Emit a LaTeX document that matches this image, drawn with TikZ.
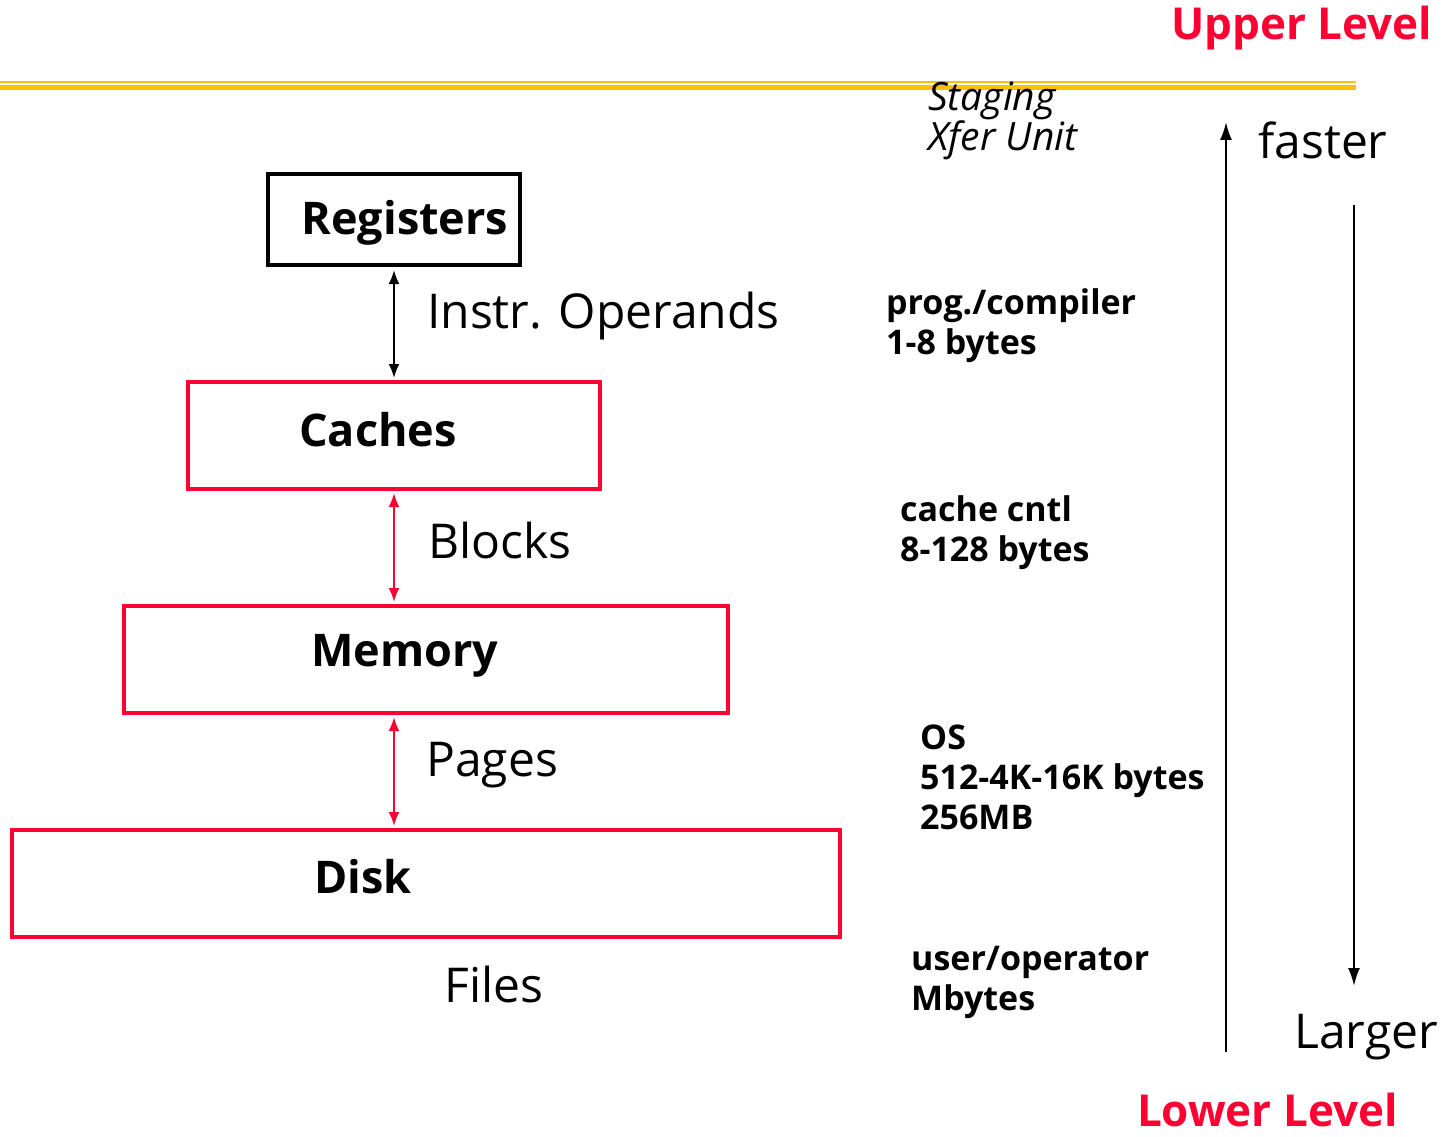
\documentclass[tikz,border=0pt]{standalone}
\usepackage{fontspec}
\setmainfont{Open Sans}
\usetikzlibrary{arrows.meta}
\definecolor{hired}{RGB}{255,0,51}
\definecolor{bargold}{RGB}{255,192,0}
\tikzset{
  lvl/.style={draw=hired, line width=3.5pt, inner sep=0pt},
  regbox/.style={draw=black, line width=4pt, inner sep=0pt},
  boxtext/.style={font=\fontsize{45}{48}\selectfont\bfseries, inner sep=0pt},
  unittext/.style={font=\fontsize{48}{52}\selectfont, inner sep=0pt, anchor=west},
  sidetext/.style={font=\fontsize{34}{40}\selectfont\bfseries, inner sep=0pt, anchor=west, align=left},
  leveltext/.style={font=\fontsize{44}{48}\selectfont\bfseries, text=hired, inner sep=0pt},
  dirtext/.style={font=\fontsize{48}{52}\selectfont, inner sep=0pt},
  link/.style={line width=2.2pt, {Latex[length=14pt,width=11pt]}-{Latex[length=14pt,width=11pt]}},
  redlink/.style={link, draw=hired, color=hired},
  trend/.style={line width=2.2pt, -{Latex[length=18pt,width=12pt]}}
}
\begin{document}
\begin{tikzpicture}[x=1pt,y=-1pt]
\useasboundingbox (0,0) rectangle (1454,1137);
% header bar
\draw[bargold, line width=2pt] (0,82) -- (1356,82);
\draw[bargold, line width=5pt] (0,88) -- (1356,88);
\node[leveltext, anchor=east] (upper) at (1432,28) {Upper Level};
\node[font=\fontsize{39}{39}\selectfont\itshape, inner sep=0pt, anchor=west, align=left] (staging) at (928,121) {Staging\\Xfer Unit};

% hierarchy boxes
\node[regbox, minimum width=252pt, minimum height=91pt] (reg) at (394,219.5) {};
\node[boxtext] (regt) at (405,223) {Registers};
\node[lvl, minimum width=412pt, minimum height=107pt] (cache) at (394,435.5) {};
\node[boxtext] (cachet) at (378,430) {Caches};
\node[lvl, minimum width=604pt, minimum height=107pt] (mem) at (426,659.5) {};
\node[boxtext] (memt) at (405,656) {Memory};
\node[lvl, minimum width=828pt, minimum height=107pt] (disk) at (426,883.5) {};
\node[boxtext] (diskt) at (363,877) {Disk};

% transfer units between levels
\coordinate (a1) at (394,270);
\coordinate (a2) at (394,378);
\draw[link] (a1) -- (a2);
\coordinate (b1) at (394,493);
\coordinate (b2) at (394,602);
\draw[redlink] (b1) -- (b2);
\coordinate (c1) at (394,717);
\coordinate (c2) at (394,826);
\draw[redlink] (c1) -- (c2);
\node[unittext] (instr) at (427,316) {Instr. Operands};
\node[unittext] (blocks) at (428,540) {Blocks};
\node[unittext] (pages) at (426,765) {Pages};
\node[unittext, anchor=center] (files) at (494,984) {Files};

% who manages each transfer, and its size
\node[sidetext] (s1) at (886,326) {prog./compiler\\1-8 bytes};
\node[sidetext] (s2) at (900,533) {cache cntl\\8-128 bytes};
\node[sidetext] (s3) at (920,777) {OS\\512-4K-16K bytes\\256MB};
\node[sidetext] (s4) at (911,982) {user/operator\\Mbytes};

% speed / size trends
\coordinate (up0) at (1226,1052);
\coordinate (up1) at (1226,122);
\draw[trend] (up0) -- (up1);
\coordinate (dn0) at (1354,205);
\coordinate (dn1) at (1354,986);
\draw[trend] (dn0) -- (dn1);
\node[dirtext, anchor=west] (faster) at (1258,140) {faster};
\node[dirtext, anchor=east] (larger) at (1438,1037) {Larger};
\node[leveltext, anchor=east] (lower) at (1398,1110) {Lower Level};
\end{tikzpicture}
\end{document}
